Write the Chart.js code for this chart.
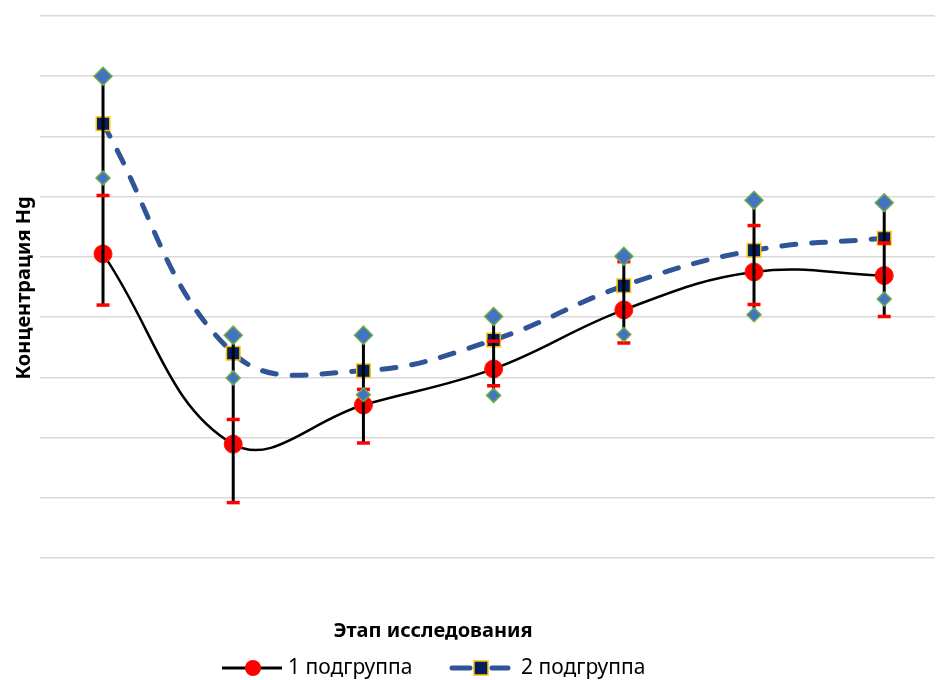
<!DOCTYPE html>
<html>
<head>
<meta charset="utf-8">
<script src="https://cdn.jsdelivr.net/npm/chart.js@4"></script>
<style>
  html, body { margin: 0; padding: 0; background: #fff; overflow: hidden; }
  #wrap { width: 938px; height: 680px; }
  canvas { display: block; }
</style>
</head>
<body>
<div id="wrap"><canvas id="hgChart" width="938" height="680"></canvas></div>
<script>
// stages of the study (no tick labels shown on the picture)
const categories = ['1', '2', '3', '4', '5', '6', '7'];

// 1 подгруппа: mean and error bar ends
const group1 = [5.05, 1.89, 2.54, 3.14, 4.12, 4.75, 4.69];
const group1High = [6.02, 2.30, 2.80, 3.60, 4.92, 5.52, 5.23];
const group1Low = [4.20, 0.92, 1.91, 2.86, 3.57, 4.21, 4.01];

// 2 подгруппа: mean and error bar ends (diamonds)
const group2 = [7.21, 3.40, 3.11, 3.62, 4.52, 5.11, 5.31];
const group2High = [8.00, 3.70, 3.70, 4.01, 5.01, 5.94, 5.90];
const group2Low = [6.31, 2.99, 2.71, 2.70, 3.71, 4.04, 4.30];

const yTicks = [0, 1, 2, 3, 4, 5, 6, 7, 8, 9];

function toPoints(values) {
    return values.map((v, i) => ({ x: i + 1, y: v }));
}

const FONT = '"Noto Sans", "Open Sans", sans-serif';

// black vertical lines, drawn just before the red caps
const whiskerPlugin = {
    id: 'whiskers',
    beforeDatasetDraw(chart, args) {
        if (args.index !== 2) return;
        const ctx = chart.ctx;
        const xs = chart.scales.x, ys = chart.scales.y;
        ctx.save();
        ctx.strokeStyle = '#000';
        ctx.lineWidth = 3;
        categories.forEach((c, i) => {
            const top = Math.max(group1High[i], group2High[i]);
            const bottom = Math.min(group1Low[i], group2Low[i]);
            const px = xs.getPixelForValue(i + 1);
            ctx.beginPath();
            ctx.moveTo(px, ys.getPixelForValue(top));
            ctx.lineTo(px, ys.getPixelForValue(bottom));
            ctx.stroke();
        });
        ctx.restore();
    }
};

// axis titles and legend
const textPlugin = {
    id: 'texts',
    afterDraw(chart) {
        const ctx = chart.ctx;
        ctx.save();
        ctx.fillStyle = '#000';
        ctx.textBaseline = 'middle';

        ctx.font = 'bold 20px ' + FONT;
        ctx.textAlign = 'center';
        ctx.fillText('Этап исследования', 433, 631);

        ctx.save();
        ctx.translate(24, 288);
        ctx.rotate(-Math.PI / 2);
        ctx.fillText('Концентрация Hg', 0, 0);
        ctx.restore();

        // legend item 1
        ctx.strokeStyle = '#000';
        ctx.lineWidth = 3;
        ctx.beginPath();
        ctx.moveTo(222, 668);
        ctx.lineTo(282, 668);
        ctx.stroke();
        ctx.fillStyle = '#ff0000';
        ctx.beginPath();
        ctx.arc(253, 668, 8, 0, Math.PI * 2);
        ctx.fill();

        // legend item 2
        ctx.strokeStyle = '#2f5597';
        ctx.lineWidth = 5;
        ctx.lineCap = 'round';
        ctx.beginPath();
        ctx.moveTo(452, 668);
        ctx.lineTo(470, 668);
        ctx.moveTo(492, 668);
        ctx.lineTo(508, 668);
        ctx.stroke();
        ctx.fillStyle = '#002060';
        ctx.strokeStyle = '#ffc000';
        ctx.lineWidth = 1.5;
        ctx.fillRect(474, 661, 14, 14);
        ctx.strokeRect(474, 661, 14, 14);

        ctx.fillStyle = '#000';
        ctx.font = '21px ' + FONT;
        ctx.textAlign = 'left';
        ctx.fillText('1 подгруппа', 288, 668);
        ctx.fillText('2 подгруппа', 521, 668);
        ctx.restore();
    }
};

const capPoints = toPoints(group1High).concat(toPoints(group1Low));

new Chart(document.getElementById('hgChart'), {
    type: 'line',
    data: {
        datasets: [
            {
                label: '1 подгруппа',
                data: toPoints(group1),
                borderColor: '#000',
                borderWidth: 2.5,
                tension: 0.4,
                pointStyle: 'circle',
                pointRadius: 9,
                pointBackgroundColor: '#ff0000',
                pointBorderColor: '#ff1a00',
                pointBorderWidth: 1,
                order: 4
            },
            {
                label: '2 подгруппа',
                data: toPoints(group2),
                borderColor: '#2f5597',
                borderWidth: 5,
                borderDash: [14, 16],
                borderCapStyle: 'round',
                tension: 0.4,
                pointStyle: 'rect',
                pointRadius: 9.5,
                pointBackgroundColor: '#002060',
                pointBorderColor: '#ffc000',
                pointBorderWidth: 1.5,
                order: 3
            },
            {
                label: 'caps',
                data: capPoints,
                showLine: false,
                pointStyle: 'line',
                pointRadius: 6.5,
                pointBorderColor: '#ff0000',
                pointBorderWidth: 3.5,
                order: 2
            },
            {
                label: 'high',
                data: toPoints(group2High),
                showLine: false,
                pointStyle: 'rectRot',
                pointRadius: 9,
                pointBackgroundColor: '#4472c4',
                pointBorderColor: '#70ad47',
                pointBorderWidth: 1.5,
                order: 1
            },
            {
                label: 'low',
                data: toPoints(group2Low),
                showLine: false,
                pointStyle: 'rectRot',
                pointRadius: 7,
                pointBackgroundColor: '#4472c4',
                pointBorderColor: '#70ad47',
                pointBorderWidth: 1.5,
                order: 1
            }
        ]
    },
    options: {
        responsive: false,
        animation: false,
        events: [],
        clip: false,
        layout: {
            autoPadding: false,
            padding: { left: 40, right: 3, top: 16, bottom: 122 }
        },
        plugins: {
            legend: { display: false },
            tooltip: { enabled: false }
        },
        scales: {
            x: {
                type: 'linear',
                min: 0.516,
                max: 7.39,
                display: false
            },
            y: {
                min: yTicks[0],
                max: yTicks[yTicks.length - 1],
                afterBuildTicks(scale) {
                    scale.ticks = yTicks.map(v => ({ value: v }));
                },
                ticks: { display: false },
                border: { display: false },
                grid: {
                    color: '#d9d9d9',
                    lineWidth: 1.5,
                    drawTicks: false
                }
            }
        }
    },
    plugins: [whiskerPlugin, textPlugin]
});
</script>
</body>
</html>
